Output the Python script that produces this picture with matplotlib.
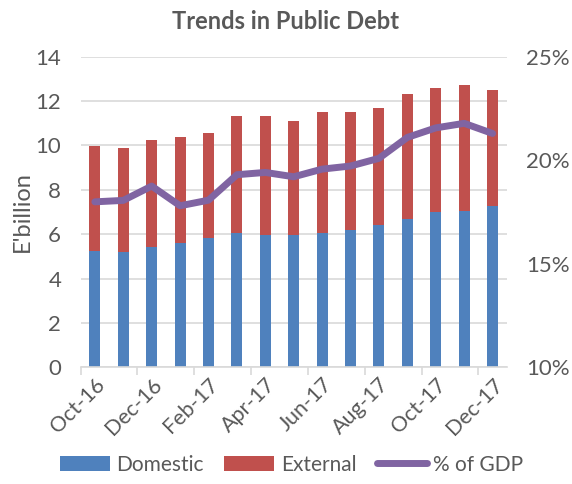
import matplotlib.pyplot as plt
from matplotlib.ticker import FuncFormatter

plt.rcParams['font.family'] = ['Lato', 'DejaVu Sans']

# Data
months = ['Oct-16', 'Nov-16', 'Dec-16', 'Jan-17', 'Feb-17', 'Mar-17', 'Apr-17', 'May-17',
          'Jun-17', 'Jul-17', 'Aug-17', 'Sep-17', 'Oct-17', 'Nov-17', 'Dec-17']
domestic = [5.22, 5.19, 5.42, 5.61, 5.84, 6.06, 5.97, 5.97, 6.06, 6.17, 6.40, 6.67, 6.98, 7.05, 7.28]
total = [9.97, 9.88, 10.24, 10.36, 10.57, 11.32, 11.32, 11.09, 11.49, 11.49, 11.69, 12.30, 12.59, 12.70, 12.50]
external = [t - d for t, d in zip(total, domestic)]
pct_gdp = [17.99, 18.06, 18.75, 17.80, 18.07, 19.30, 19.41, 19.20, 19.57, 19.72, 20.09, 21.10, 21.56, 21.78, 21.29]

txt = '#595959'
grid = '#D9D9D9'

fig = plt.figure(figsize=(5.72, 4.84), dpi=100)
ax = fig.add_axes([0.141, 0.241, 0.745, 0.642])
x = list(range(len(months)))

b1 = ax.bar(x, domestic, width=0.39, color='#4F81BD', label='Domestic', zorder=2)
b2 = ax.bar(x, external, width=0.39, bottom=domestic, color='#C0504D', label='External', zorder=2)

ax.set_ylim(0, 14)
ax.set_xlim(-0.5, len(months) - 0.5)
ax.set_yticks(range(0, 15, 2))
ax.yaxis.grid(True, color=grid, linewidth=1.2, zorder=0)
ax.set_axisbelow(True)
for s in ['top', 'right', 'left']:
    ax.spines[s].set_visible(False)
ax.spines['bottom'].set_color(grid)
ax.spines['bottom'].set_linewidth(1.2)

# tick marks between category pairs, labels on every other month
ax.set_xticks([i - 0.5 for i in range(0, len(months), 2)])
ax.set_xticklabels([])
ax.tick_params(axis='x', which='major', length=6, color=grid, width=1.2)
ax.set_xticks(x[::2], minor=True)
ax.set_xticklabels(months[::2], minor=True, rotation=45, ha='right', va='top',
                   rotation_mode='anchor', fontsize=15.5, color=txt)
ax.tick_params(axis='x', which='minor', length=0, pad=5)
ax.tick_params(axis='y', length=0, pad=14, labelsize=16, labelcolor=txt)
ax.set_ylabel("E'billion", fontsize=17, color=txt, labelpad=2)

ax2 = ax.twinx()
line, = ax2.plot(x, pct_gdp, color='#8064A2', linewidth=5, label='% of GDP',
                 solid_capstyle='round', solid_joinstyle='round')
ax2.set_ylim(10, 25)
ax2.set_yticks([10, 15, 20, 25])
ax2.yaxis.set_major_formatter(FuncFormatter(lambda v, p: f'{v:.0f}%'))
ax2.tick_params(axis='y', length=0, pad=14, labelsize=16, labelcolor=txt)
for s in ax2.spines.values():
    s.set_visible(False)

fig.suptitle('Trends in Public Debt', x=0.5, y=0.98, fontsize=17, fontweight='bold', color=txt)

fig.legend(handles=[b1, b2, line], loc='lower center', bbox_to_anchor=(0.51, -0.02), ncol=3,
           frameon=False, fontsize=15, labelcolor=txt, handlelength=2.4, handleheight=0.75,
           columnspacing=1.0, handletextpad=0.3)

fig.savefig('out.png', dpi=100)
